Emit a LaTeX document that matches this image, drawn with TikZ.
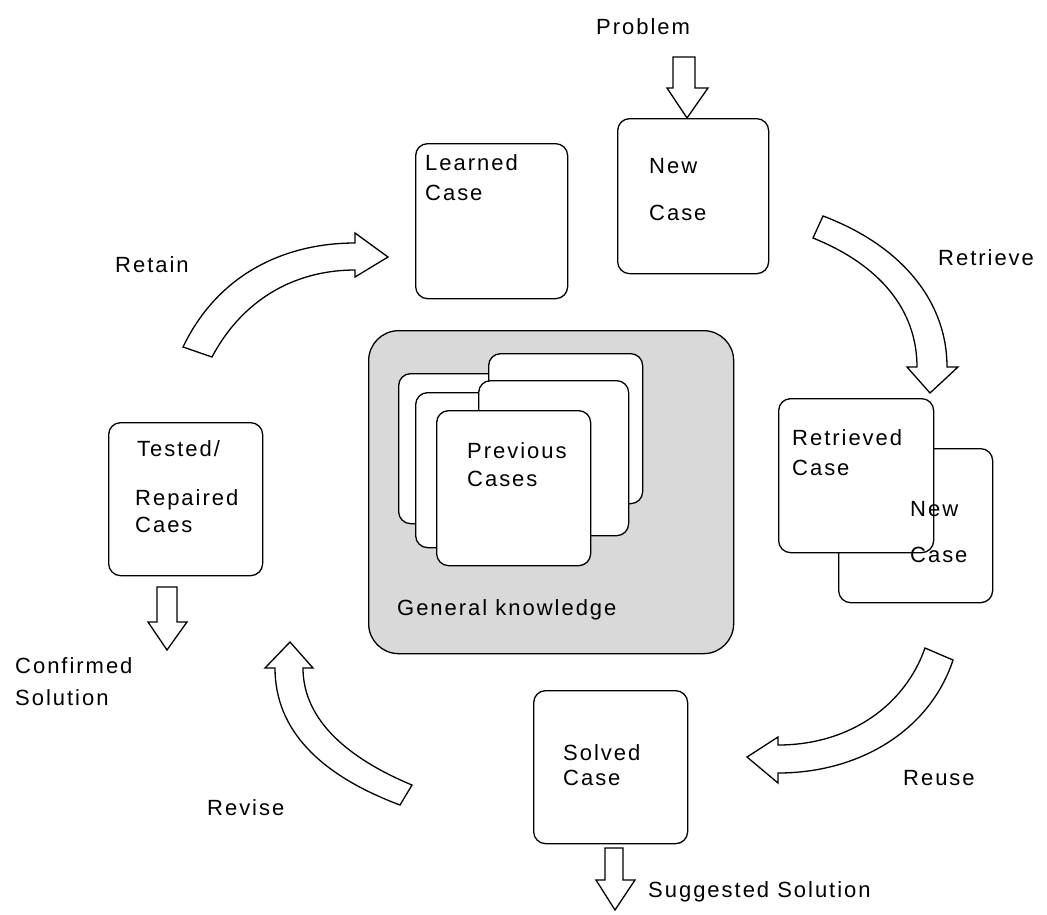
\documentclass[tikz,border=0pt]{standalone}
\usepackage{fontspec}
\setmainfont{Liberation Sans}[LetterSpace=9]
\begin{document}
\begin{tikzpicture}[x=1pt,y=-1pt,
  box/.style={draw, line width=1.3pt, rounded corners=12pt, fill=white, anchor=north west, inner sep=0pt},
  gkbox/.style={draw, line width=1.3pt, rounded corners=30pt, fill=gkgray, anchor=north west, inner sep=0pt},
  blk/.style={draw, line width=1.3pt, fill=white, line join=miter},
  lbl/.style={anchor=base west, inner sep=0pt, font=\fontsize{22}{25}\selectfont}]
\definecolor{gkgray}{RGB}{217,217,217}
\useasboundingbox (0,0) rectangle (1047,914);

% General knowledge container and stacked cases
\node[gkbox, minimum width=365pt, minimum height=323pt] (gk) at (368,330) {};
\node[box, minimum width=154pt, minimum height=150pt] (card2) at (398,373) {};
\node[box, minimum width=154pt, minimum height=150pt] (card1) at (488,353) {};
\node[box, minimum width=154pt, minimum height=155pt] (card4) at (415,392) {};
\node[box, minimum width=150pt, minimum height=155pt] (card3) at (478,380) {};
\node[box, minimum width=154pt, minimum height=155pt] (card5) at (436,410) {};
\node[lbl] (prevA) at (467,458) {Previous};
\node[lbl] (prevB) at (467,486) {Cases};
\node[lbl] (gkt) at (397,615) {General knowledge};

% Case boxes
\node[box, minimum width=151pt, minimum height=155pt] (newcase) at (617,118) {};
\node[lbl] (ncA) at (649,173) {New};
\node[lbl] (ncB) at (649,220) {Case};

\node[box, minimum width=152pt, minimum height=155pt] (learned) at (415,143) {};
\node[lbl] (lcA) at (425,170) {Learned};
\node[lbl] (lcB) at (425,200) {Case};

\node[box, minimum width=154pt, minimum height=154pt] (newback) at (838,448) {};
\node[box, minimum width=155pt, minimum height=154pt] (retrieved) at (778,398) {};
\node[lbl] (rcA) at (792,445) {Retrieved};
\node[lbl] (rcB) at (792,475) {Case};
\node[lbl] (nbA) at (910,516) {New};
\node[lbl] (nbB) at (910,562) {Case};

\node[box, minimum width=154pt, minimum height=153pt] (solved) at (533,690) {};
\node[lbl] (scA) at (563,760) {Solved};
\node[lbl] (scB) at (563,785) {Case};

\node[box, minimum width=154pt, minimum height=153pt] (tested) at (108,422) {};
\node[lbl] (tcA) at (137,456) {Tested/};
\node[lbl] (tcB) at (135,505) {Repaired};
\node[lbl] (tcC) at (135,532) {Caes};

% Labels
\node[lbl] (problem) at (596,34) {Problem};
\node[lbl] (retain) at (115,272) {Retain};
\node[lbl] (retrieve) at (938,265) {Retrieve};
\node[lbl] (reuse) at (903,785) {Reuse};
\node[lbl] (revise) at (207,815) {Revise};
\node[lbl] (confA) at (15,673) {Confirmed};
\node[lbl] (confB) at (15,705) {Solution};
\node[lbl] (sugg) at (648,897) {Suggested Solution};

% Straight block arrows
\draw[blk] (673,57) -- (673,88) -- (667,88) -- (687,118) -- (708,88) -- (695,88) -- (695,57) -- cycle;
\draw[blk] (157,587) -- (157,622) -- (148,622) -- (167,650) -- (187,622) -- (177,622) -- (177,587) -- cycle;
\draw[blk] (605,848) -- (605,880) -- (596,880) -- (615,910) -- (635,880) -- (623,880) -- (623,848) -- cycle;

% Curved block arrows
% Retain
\draw[blk] (183,347) -- (212,357) .. controls (245,295) and (300,270) .. (355,270)
  -- (355,277) -- (388,257) -- (355,233) -- (355,243)
  .. controls (290,243) and (220,270) .. (183,347) -- cycle;
% Retrieve
\draw[blk] (823,216) -- (813,238) .. controls (880,265) and (917,310) .. (917,367)
  -- (907,367) -- (930,393) -- (958,367) -- (947,367)
  .. controls (947,300) and (900,245) .. (823,216) -- cycle;
% Reuse
\draw[blk] (953,660) -- (925,648) .. controls (905,705) and (850,745) .. (778,745)
  -- (778,737) -- (747,757) -- (778,783) -- (778,773)
  .. controls (860,773) and (930,730) .. (953,660) -- cycle;
% Revise
\draw[blk] (400,805) -- (412,785) .. controls (340,755) and (303,715) .. (303,668)
  -- (313,668) -- (290,642) -- (265,668) -- (275,668)
  .. controls (275,730) and (320,775) .. (400,805) -- cycle;
\end{tikzpicture}
\end{document}
